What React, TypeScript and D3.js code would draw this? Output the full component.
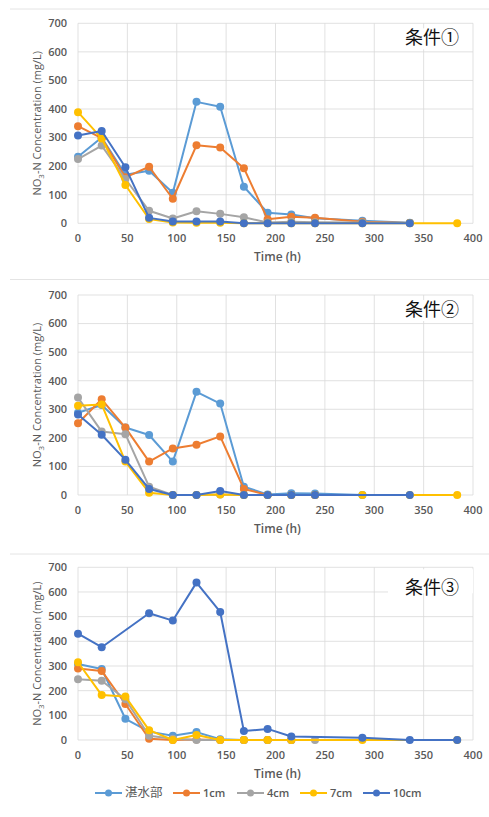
import React from "react";
import * as d3 from "d3";

const TIMES = [0, 24, 48, 72, 96, 120, 144, 168, 192, 216, 240, 288, 336, 384];
const SERIES_NAMES = ["湛水部", "1cm", "4cm", "7cm", "10cm"];
const COLORS = ["#5B9BD5", "#ED7D31", "#A5A5A5", "#FFC000", "#4472C4"];
const PANEL_TITLES = ["条件①", "条件②", "条件③"];
const X_TICKS = [0, 50, 100, 150, 200, 250, 300, 350, 400];
const Y_TICKS = [0, 100, 200, 300, 400, 500, 600, 700];

type V = number | null;
// Panel 1 (条件①)
const P1_TANSUI: V[] = [233, 300, 170, 184, 107, 425, 408, 128, 37, 31, 18, 9, 2, null];
const P1_1CM: V[] = [340, 298, 161, 198, 86, 273, 265, 193, 14, 23, 19, 5, 1, null];
const P1_4CM: V[] = [225, 272, 155, 44, 17, 42, 33, 21, 3, 5, 4, 3, 1, null];
const P1_7CM: V[] = [389, 297, 134, 15, 3, 2, 2, 0, 0, 0, 0, 0, 0, 0];
const P1_10CM: V[] = [307, 323, 196, 19, 6, 6, 6, 0, 0, 0, 0, 0, 0, null];
// Panel 2 (条件②)
const P2_TANSUI: V[] = [288, 315, 236, 210, 117, 361, 320, 29, 2, 6, 5, 0, null, null];
const P2_1CM: V[] = [251, 335, 236, 117, 163, 176, 205, 21, 0, 0, 0, null, null, null];
const P2_4CM: V[] = [341, 222, 213, 29, 0, 0, 2, 0, 0, 0, 0, null, null, null];
const P2_7CM: V[] = [312, 317, 117, 8, 0, 0, 2, 0, 0, 0, 0, 0, 0, 0];
const P2_10CM: V[] = [282, 211, 123, 21, 0, 0, 14, 0, 0, 0, 0, null, 0, null];
// Panel 3 (条件③)
const P3_TANSUI: V[] = [308, 288, 86, 34, 17, 32, 3, 0, 0, 0, null, null, null, null];
const P3_1CM: V[] = [290, 280, 146, 5, 0, 2, 0, 0, 0, 0, null, null, null, null];
const P3_4CM: V[] = [246, 240, 165, 17, 5, 0, 0, 0, 0, 0, 0, null, null, null];
const P3_7CM: V[] = [315, 182, 176, 40, 0, 20, 0, 0, 0, 0, null, 0, null, 0];
const P3_10CM: V[] = [431, 376, null, 514, 484, 638, 519, 36, 45, 14, null, 9, 0, 0];

const PANELS = [
  { data: [P1_TANSUI, P1_1CM, P1_4CM, P1_7CM, P1_10CM], top: 23.3, bottom: 223.3, sep: 9 },
  { data: [P2_TANSUI, P2_1CM, P2_4CM, P2_7CM, P2_10CM], top: 295, bottom: 495, sep: 279.5 },
  { data: [P3_TANSUI, P3_1CM, P3_4CM, P3_7CM, P3_10CM], top: 567.3, bottom: 740, sep: 554 },
];

const FONT = "'Open Sans', 'Noto Sans', sans-serif";
const TXT = "#595959";
const LEFT = 78;
const RIGHT = 473;

function Panel({ idx }: { idx: number }) {
  const p = PANELS[idx];
  const x = d3.scaleLinear().domain([0, 400]).range([LEFT, RIGHT]);
  const y = d3.scaleLinear().domain([0, 700]).range([p.bottom, p.top]);
  const line = d3
    .line<[number, number]>()
    .x((d) => x(d[0]))
    .y((d) => y(d[1]));
  const mid = (p.top + p.bottom) / 2;
  const isLast = idx === 2;
  return (
    <g>
      <line x1={10} x2={489} y1={p.sep} y2={p.sep} stroke="#e4e4e4" strokeWidth={1} />
      {Y_TICKS.map((t) => (
        <line key={"h" + t} x1={LEFT} x2={RIGHT} y1={y(t)} y2={y(t)} stroke="#d9d9d9" strokeWidth={0.8} />
      ))}
      {X_TICKS.map((t) => (
        <line key={"v" + t} x1={x(t)} x2={x(t)} y1={p.top} y2={p.bottom} stroke="#d9d9d9" strokeWidth={0.8} />
      ))}
      {isLast ? (
        <rect x={388} y={p.top + 2} width={85} height={24} fill="#fff" />
      ) : (
        <rect x={398} y={p.top + 5} width={64} height={21} fill="#fff" />
      )}
      <text
        x={459}
        y={isLast ? 594 : p.top + 21}
        textAnchor="end"
        fontFamily="'Noto Sans CJK JP', sans-serif"
        fontSize={18}
        fill="#111"
      >
        {PANEL_TITLES[idx]}
      </text>
      {Y_TICKS.map((t) => (
        <text
          key={"yl" + t}
          x={67}
          y={y(t)}
          dy="0.35em"
          textAnchor="end"
          fontFamily={FONT}
          fontWeight={600}
          fontSize={11}
          fill={TXT}
        >
          {t}
        </text>
      ))}
      {X_TICKS.map((t) => (
        <text
          key={"xl" + t}
          x={x(t)}
          y={p.bottom + 15}
          dy="0.35em"
          textAnchor="middle"
          fontFamily={FONT}
          fontWeight={600}
          fontSize={11}
          fill={TXT}
        >
          {t}
        </text>
      ))}
      <text
        x={x(200) + 2}
        y={p.bottom + 33.5}
        dy="0.35em"
        textAnchor="middle"
        fontFamily={FONT}
        fontWeight={600}
        fontSize={12}
        fill={TXT}
      >
        Time (h)
      </text>
      <text
        transform={`translate(37,${mid}) rotate(-90)`}
        textAnchor="middle"
        dy="0.35em"
        fontFamily={FONT}
        fontSize={11}
        fill={TXT}
      >
        NO
        <tspan fontSize={8} dy="3">3</tspan>
        <tspan dy="-3">-N Concentration (mg/L)</tspan>
      </text>
      {p.data.map((vals, si) => {
        const pts: [number, number][] = [];
        vals.forEach((v, i) => {
          if (v !== null) pts.push([TIMES[i], v]);
        });
        return (
          <g key={"s" + si}>
            <path d={line(pts) || ""} fill="none" stroke={COLORS[si]} strokeWidth={2} strokeLinejoin="round" />
            {pts.map((d, k) => (
              <circle key={k} cx={x(d[0])} cy={y(d[1])} r={4} fill={COLORS[si]} />
            ))}
          </g>
        );
      })}
    </g>
  );
}

const LEGEND_X = [95, 173, 237, 300, 363];

function Legend() {
  const cy = 793;
  return (
    <g>
      {SERIES_NAMES.map((n, i) => (
        <g key={n}>
          <line x1={LEGEND_X[i]} x2={LEGEND_X[i] + 27} y1={cy} y2={cy} stroke={COLORS[i]} strokeWidth={2} />
          <circle cx={LEGEND_X[i] + 13.5} cy={cy} r={3.5} fill={COLORS[i]} />
          <text
            x={LEGEND_X[i] + 30}
            y={cy}
            dy="0.35em"
            fontFamily={i === 0 ? "'Noto Sans CJK JP', sans-serif" : FONT}
            fontWeight={i === 0 ? 400 : 600}
            fontSize={i === 0 ? 12.5 : 11}
            fill={TXT}
          >
            {n}
          </text>
        </g>
      ))}
    </g>
  );
}

export default function App() {
  return (
    <svg
      width={489}
      height={817}
      style={{ position: "absolute", left: 0, top: 0, background: "#fff" }}
    >
      <rect width={489} height={817} fill="#fff" />
      <Panel idx={0} />
      <Panel idx={1} />
      <Panel idx={2} />
      <Legend />
    </svg>
  );
}
